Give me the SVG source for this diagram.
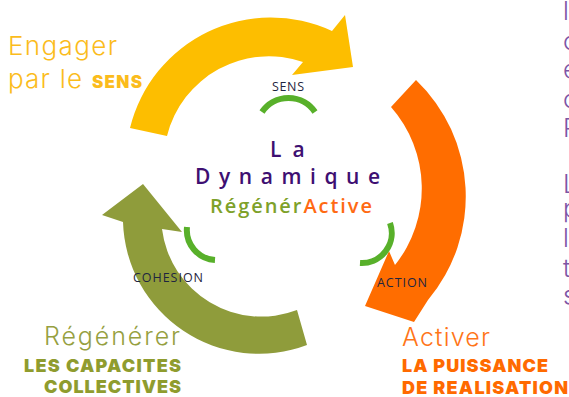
<svg xmlns="http://www.w3.org/2000/svg" width="569" height="397" viewBox="0 0 569 397">
<style>
.light{font-family:"Inter","Lato","Liberation Sans",sans-serif;font-weight:300}
.heavy{font-family:"Inter","Lato","Liberation Sans",sans-serif;font-weight:900}
.lbl{font-family:"Open Sans","Liberation Sans",sans-serif;font-size:12.5px;fill:#1e2540}
.ctr{font-family:"Open Sans","DejaVu Sans",sans-serif;font-weight:600}
.arc{fill:none;stroke:#58b02a;stroke-width:6}
</style>
<rect width="569" height="397" fill="#ffffff"/>
<g id="connectors">
  <path id="arrow-sens" fill="#fdbe00" d="M130,128 A145,145 0 0 1 332,31 L345,15 L353,67 L292,75 L303,62 A105,105 0 0 0 167,136 Z"/>
  <path id="arrow-action" fill="#ff6d00" d="M416,80 A161,161 0 0 1 428,300 L414,322 L365,306 L389,251 L395,265 A123,123 0 0 0 391,107 Z"/>
  <path id="arrow-cohesion" fill="#8f9c3b" d="M307,345 A136,136 0 0 1 123,222 L102,215 L143,184 L182,232 L162,229 A100,100 0 0 0 297,310 Z"/>
</g>
<g id="green-arcs">
  <path class="arc" d="M262,112 A32,32 0 0 1 315,112"/>
  <path class="arc" d="M187,227 A30,30 0 0 0 215,260"/>
  <path class="arc" d="M390,223 A30,30 0 0 1 360,263"/>
</g>
<g id="center">
  <text class="ctr" x="270" y="157" font-size="21" fill="#3e0f72" letter-spacing="11">La</text>
  <text class="ctr" x="195" y="184" font-size="21" fill="#3e0f72" textLength="185" lengthAdjust="spacing">Dynamique</text>
  <text class="ctr" x="210" y="213" font-size="20" font-weight="bold" textLength="162"><tspan fill="#7ea12a">Régénér</tspan><tspan fill="#ff6a13">Active</tspan></text>
</g>
<g id="labels">
  <text class="lbl" x="272" y="91" textLength="32">SENS</text>
  <text class="lbl" x="133" y="282" textLength="70">COHESION</text>
  <text class="lbl" x="377" y="287" textLength="50">ACTION</text>
</g>
<g id="node-engager">
  <text class="light" x="8" y="55" font-size="26" fill="#fbbc1c" textLength="109">Engager</text>
  <text class="light" x="8" y="88" font-size="26" fill="#fbbc1c" textLength="74">par le</text>
  <text class="heavy" x="92" y="88" font-size="17" fill="#fbbc1c" textLength="50">SENS</text>
</g>
<g id="node-regenerer">
  <text class="light" x="44" y="345" font-size="25" fill="#96a03f" textLength="136">Régénérer</text>
  <text class="heavy" x="24" y="372" font-size="18" fill="#8f9c2e" textLength="157">LES CAPACITES</text>
  <text class="heavy" x="44" y="393" font-size="18" fill="#8f9c2e" textLength="137">COLLECTIVES</text>
</g>
<g id="node-activer">
  <text class="light" x="402" y="346" font-size="25" fill="#ff7518" textLength="88">Activer</text>
  <text class="heavy" x="402" y="372" font-size="18" fill="#ff6a00" textLength="146">LA PUISSANCE</text>
  <text class="heavy" x="402" y="394" font-size="18" fill="#ff6a00" textLength="166">DE REALISATION</text>
</g>
<g id="side-text" class="light" font-size="25" fill="#7d55a5">
  <text x="563" y="20">l</text>
  <text x="563" y="50">c</text>
  <text x="563" y="78">e</text>
  <text x="563" y="108">c</text>
  <text x="563" y="137">P</text>
  <text x="563" y="193">L</text>
  <text x="563" y="217">p</text>
  <text x="563" y="247">l</text>
  <text x="563" y="277">t</text>
  <text x="563" y="304">s</text>
</g>
</svg>
